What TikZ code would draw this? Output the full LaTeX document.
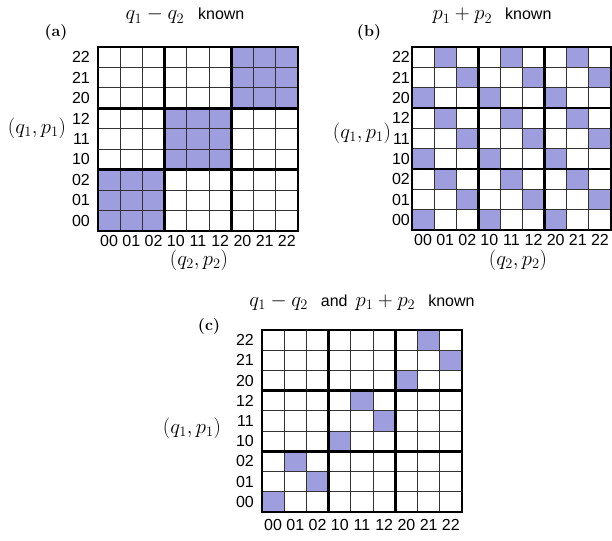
\documentclass[tikz,border=0pt]{standalone}
\usepackage{fontspec}
\setsansfont{Liberation Sans}
\definecolor{cellfill}{RGB}{158,158,222}
\tikzset{
  thinline/.style={line width=0.9pt, draw=black!80},
  thickline/.style={line width=2.4pt, draw=black, line cap=rect},
  lab/.style={font=\sffamily\fontsize{16}{16}\selectfont, inner sep=0pt},
  mlab/.style={font=\fontsize{20}{20}\selectfont, inner sep=0pt},
  tag/.style={font=\bfseries\fontsize{16}{16}\selectfont, inner sep=0pt, anchor=base},
  ttl/.style={font=\fontsize{22}{22}\selectfont, inner sep=0pt, anchor=base},
}
\newcommand\knownword[1]{{\sffamily\fontsize{16}{16}\selectfont #1}}
% #1 name, #2 x0, #3 y0, #4 w, #5 h, #6 mode, #7 col-label gap, #8 row-label gap
\newcommand\mygrid[8]{%
  \begin{scope}[shift={(#2,#3)}]
    \pgfmathsetmacro\cw{#4/9}
    \pgfmathsetmacro\ch{#5/9}
    \foreach \r in {0,...,8}{
      \foreach \c in {0,...,8}{
        \pgfmathtruncatemacro\qa{div(\r,3)==div(\c,3)}
        \pgfmathtruncatemacro\pb{mod(mod(\r,3)+mod(\c,3),3)==0}
        \pgfmathtruncatemacro\sh{(#6==1)*\qa+(#6==2)*\pb+(#6==3)*\qa*\pb}
        \ifnum\sh=1
          \fill[cellfill] ({\c*\cw},{#5-(\r+1)*\ch}) rectangle ++(\cw,\ch);
        \fi
      }
    }
    \foreach \i in {1,2,4,5,7,8}{
      \draw[thinline] ({\i*\cw},0) -- ({\i*\cw},#5);
      \draw[thinline] (0,{\i*\ch}) -- (#4,{\i*\ch});
    }
    \foreach \i in {0,3,6,9}{
      \draw[thickline] ({\i*\cw},0) -- ({\i*\cw},#5);
      \draw[thickline] (0,{\i*\ch}) -- (#4,{\i*\ch});
    }
    \foreach \r in {0,...,8}{
      \pgfmathtruncatemacro\ra{div(\r,3)}
      \pgfmathtruncatemacro\rb{mod(\r,3)}
      \node[lab, anchor=east] (#1r\r) at (-#8,{#5-(\r+0.5)*\ch}) {\ra\rb};
      \node[lab, anchor=north] (#1c\r) at ({(\r+0.5)*\cw},{#5+#7}) {\ra\rb};
    }
  \end{scope}
}
\begin{document}
\begin{tikzpicture}[x=1pt,y=-1pt]
  \fill[white] (0,0) rectangle (612,540);
  \useasboundingbox (0,0) rectangle (612,540);

  % (a)
  \node[ttl] (ta) at (185,20) {$q_1-q_2$\hspace{14pt}\knownword{known}};
  \node[tag] (la) at (56,37) {(a)};
  \mygrid{a}{98}{47}{200}{184}{1}{4}{8}
  \node[mlab] (qpa) at (37,128) {$(q_1,p_1)$};
  \node[mlab] (qqa) at (199,260) {$(q_2,p_2)$};

  % (b)
  \node[ttl] (tb) at (492,20) {$p_1+p_2$\hspace{13pt}\knownword{known}};
  \node[tag] (lb) at (369,37) {(b)};
  \mygrid{b}{412}{47}{199}{183}{2}{4}{2}
  \node[mlab] (qpb) at (362,133) {$(q_1,p_1)$};
  \node[mlab] (qqb) at (518,260) {$(q_2,p_2)$};

  % (c)
  \node[ttl] (tc) at (362,306) {$q_1-q_2$\hspace{13pt}\knownword{and}\hspace{8pt}$p_1+p_2$\hspace{13pt}\knownword{known}};
  \node[tag] (lc) at (209,330) {(c)};
  \mygrid{c}{262}{330}{200}{182}{3}{7}{8}
  \node[mlab] (qpc) at (192,428) {$(q_1,p_1)$};
\end{tikzpicture}
\end{document}
